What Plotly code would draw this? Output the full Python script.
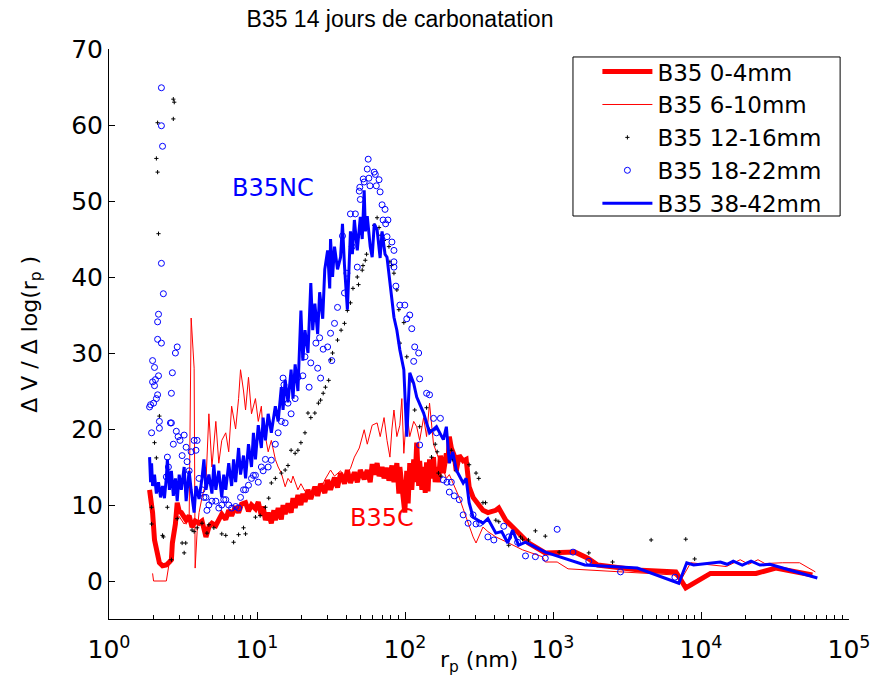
import plotly.graph_objects as go

# ---------------- data ----------------
# B35 0-4mm (thick red line)
r_04 = [1.88, 1.97, 2.03, 2.13, 2.19, 2.30, 2.44, 2.56, 2.64, 2.68, 2.76, 2.81, 2.89, 2.98, 3.08, 3.22, 3.32,
        3.48, 3.64, 3.82, 4.06, 4.25, 4.38, 4.52, 4.73, 4.96, 5.27, 5.52, 5.78, 6.15, 6.44, 6.74, 7.17, 7.51,
        7.86, 8.37, 8.76, 9.18, 9.76, 10.2, 10.7, 11.0, 11.4, 11.9, 12.5, 13.0, 13.3, 13.9, 14.6, 15.0, 15.5,
        16.2, 17.0, 17.5, 18.1, 18.9, 19.8, 20.4, 21.1, 22.1, 23.1, 24.6, 25.7, 26.9, 28.7, 30.0, 31.4, 33.4,
        35.0, 36.7, 39.0, 40.8, 42.8, 45.5, 47.6, 49.9, 53.0, 55.6, 58.2, 60.0, 61.9, 64.8, 66.8, 70.0, 72.2,
        75.6, 77.9, 81.6, 84.2, 88.1, 90.9, 92.3, 95.2, 98.2, 99.7, 102.8, 105.0, 107.7, 111.1, 114.5, 117.0,
        120.0, 123.7, 125.6, 130.0, 133.6, 137.0, 139.9, 143.0, 146.5, 151.1, 155.8, 160.0, 163.2, 168.3,
        173.5, 181.7, 190.3, 195.0, 199.3, 205.5, 215.2, 222.0, 232.5, 247.2, 258.9, 265.0, 271.2, 288.4,
        302.0, 336.3, 363.2, 410.9, 430.2, 457.6, 479.3, 558.8, 622.6, 682.9, 887.0, 1083, 1407, 1719, 2005,
        3948, 6764, 7890, 11590, 23540, 32010, 56580]
v_04 = [12.0, 9.0, 5.4, 3.2, 2.4, 2.0, 2.1, 2.5, 2.8, 5.0, 6.3, 7.5, 10.3, 9.2, 9.0, 8.5, 8.0,
        8.6, 7.1, 7.9, 7.6, 7.9, 6.8, 5.8, 7.1, 7.6, 7.3, 8.2, 8.8, 8.1, 9.3, 8.6, 9.8, 9.0,
        10.1, 10.3, 9.2, 10.0, 9.5, 10.4, 8.6, 9.8, 8.0, 9.0, 7.6, 9.3, 8.0, 9.6, 8.1, 10.0, 8.8,
        10.2, 9.0, 10.9, 9.6, 11.3, 10.0, 11.5, 10.4, 12.0, 10.8, 12.4, 11.2, 12.8, 11.6, 13.3, 12.0, 13.6,
        12.3, 14.2, 12.8, 14.6, 12.9, 14.3, 13.0, 14.6, 13.4, 14.6, 13.0, 15.4, 14.0, 15.5, 13.8, 15.0, 13.5,
        14.9, 13.2, 15.2, 13.0, 15.5, 11.5, 15.0, 13.0, 11.0, 9.0, 14.5, 10.2, 15.5, 12.0, 16.0, 13.0,
        18.2, 12.5, 15.8, 12.0, 15.0, 11.6, 15.6, 11.8, 16.0, 13.5, 16.3, 13.0, 15.0, 13.0,
        16.5, 14.2, 16.8, 15.5, 19.0, 17.5, 16.5, 14.5, 16.5, 15.8, 16.0, 13.0, 12.4, 11.0,
        10.5, 9.3, 9.0, 9.3, 9.6, 8.8, 8.0, 6.7, 5.8, 5.0, 3.7, 3.7, 3.8, 3.0, 2.1,
        1.4, 1.2, -0.9, 1.0, 1.0, 1.7, 0.8]

# B35 6-10mm (thin red line)
r_610 = [1.97, 2.00, 2.44, 2.56, 2.68, 2.81, 2.98, 3.22, 3.48, 3.59, 3.76, 3.82, 3.94, 4.06, 4.25, 4.52,
         4.73, 4.96, 5.27, 5.52, 5.78, 6.15, 6.44, 6.74, 7.17, 7.51, 7.74, 8.11, 8.37, 8.76, 9.18, 9.76,
         10.2, 10.7, 11.0, 11.4, 11.9, 12.5, 13.3, 13.9, 14.6, 15.5, 16.2, 17.0, 17.5, 18.9, 19.8, 21.1,
         23.1, 24.6, 26.9, 28.7, 31.4, 33.4, 36.7, 39.0, 42.8, 45.5, 49.1, 53.0, 55.6, 60.0, 64.8, 68.0,
         72.2, 75.6, 79.1, 81.6, 84.2, 88.1, 92.3, 95.2, 98.2, 102.8, 107.7, 114.5, 120.0, 125.6, 133.6,
         139.9, 146.5, 155.8, 163.2, 173.5, 181.7, 190.3, 199.3, 215.2, 232.5, 247.2, 258.9, 288.4, 302.0,
         336.3, 363.2, 410.9, 501.9, 622.6, 846.9, 887.0, 1067, 1264, 6559, 7305, 8521, 14830, 18400,
         21000, 24270, 27000, 35650, 46330, 59260]
v_610 = [1.0, 0.0, 0.0, 2.8, 5.0, 7.5, 8.5, 7.5, 8.2, 34.6, 28.0, 1.7, 6.5, 9.0, 11.0, 13.0,
         22.0, 15.0, 21.0, 15.5, 18.5, 19.5, 17.0, 23.0, 20.0, 24.0, 27.8, 25.0, 22.5, 26.8, 22.0, 24.0,
         21.0, 23.0, 19.5, 19.0, 17.0, 18.5, 16.0, 15.0, 14.2, 12.4, 13.5, 12.9, 13.8, 12.0, 12.8, 11.8,
         11.6, 12.4, 12.0, 13.3, 14.6, 13.8, 14.5, 13.7, 14.8, 16.3, 17.5, 19.9, 18.0, 20.5, 20.8, 19.0,
         21.5, 18.5, 16.3, 20.0, 22.5, 19.0, 20.5, 24.0, 16.8, 22.5, 19.0, 21.0, 20.3, 18.5, 21.5,
         19.0, 23.4, 18.0, 16.8, 15.5, 14.6, 13.5, 14.0, 12.5, 11.0, 9.5, 8.4, 5.8, 5.0,
         7.1, 6.5, 5.8, 5.0, 4.1, 3.2, 2.5, 2.5, 1.6, 0.8, 0.1, 2.4, 1.9, 2.8,
         2.2, 2.8, 2.3, 2.4, 2.4, 1.2]

# B35 12-16mm (black points)
r_1216 = [1.94, 1.94, 2.03, 2.09, 2.09, 2.13, 2.13, 2.16, 2.19, 2.30, 2.33, 2.48, 2.64, 2.72, 2.72, 2.76,
          2.89, 3.12, 3.22, 3.30, 3.64, 3.76, 3.94, 4.25, 4.59, 4.73, 5.11, 5.78, 6.15, 6.95, 7.51, 8.11,
          8.37, 9.76, 10.5, 11.4, 12.0, 12.5, 13.3, 14.6, 15.5, 16.2, 17.0, 18.1, 18.9, 19.8, 21.1, 22.1,
          23.1, 24.6, 26.0, 26.9, 28.0, 29.0, 30.5, 31.4, 32.4, 35.0, 37.0, 39.0, 40.8, 42.8, 44.5, 47.6,
          48.5, 51.4, 52.0, 53.9, 55.0, 61.9, 64.8, 66.8, 67.9, 69.0, 72.0, 77.9, 79.1, 81.0, 84.2, 88.1,
          90.9, 92.3, 98.2, 102.8, 111.1, 116.3, 125.6, 139.9, 146.5, 151.1, 160.0, 165.0, 168.3, 175.0,
          205.5, 210.0, 222.0, 271.2, 302.0, 315.0, 336.3, 350.0, 410.9, 430.2, 501.9, 603.7, 622.6, 682.9,
          760.3, 887.0, 1100, 1746, 2526, 4604, 7890, 9063]
v_1216 = [9.7, 7.5, 18.2, 55.6, 16.2, 60.3, 53.8, 45.7, 21.7, 6.0, 5.8, 9.7, 2.8, 63.4, 60.8, 63.0,
          8.2, 5.0, 3.7, 5.0, 6.7, 6.5, 7.0, 7.6, 6.3, 7.4, 7.0, 6.2, 6.0, 5.1, 6.1, 7.0,
          6.2, 8.4, 8.6, 9.7, 10.9, 12.9, 13.5, 14.2, 14.6, 15.2, 17.2, 16.8, 17.2, 18.2, 19.5, 22.1,
          21.5, 22.1, 23.4, 23.8, 24.7, 25.5, 26.4, 29.1, 30.0, 31.7, 33.0, 33.9, 35.6, 36.6, 38.5, 40.0,
          39.0, 40.9, 41.5, 42.2, 43.0, 46.8, 47.8, 46.5, 44.5, 45.5, 44.8, 44.0, 42.0, 41.5, 40.5, 38.3,
          35.7, 31.3, 34.0, 29.5, 26.4, 22.5, 20.3, 22.8, 19.9, 16.3, 18.0, 17.0, 14.2, 13.8,
          17.2, 16.0, 14.5, 15.3, 14.2, 13.5, 10.3, 10.3, 8.0, 7.8, 4.7, 5.8, 5.5, 5.4,
          6.6, 5.9, 3.8, 3.7, 2.5, 5.4, 5.5, 2.9]

# B35 18-22mm (blue circles)
r_1822 = [1.88, 1.91, 1.94, 1.97, 1.97, 2.00, 2.03, 2.03, 2.06, 2.09, 2.13, 2.13, 2.13, 2.16, 2.16, 2.19,
          2.19, 2.26, 2.26, 2.26, 2.26, 2.30, 2.33, 2.44, 2.48, 2.52, 2.60, 2.64, 2.64, 2.68, 2.72, 2.81,
          2.85, 2.89, 2.93, 3.02, 3.12, 3.22, 3.32, 3.37, 3.48, 3.59, 3.76, 3.87, 3.94, 4.06, 4.25, 4.38,
          4.52, 4.59, 4.73, 4.96, 5.27, 5.52, 5.78, 5.96, 6.15, 6.44, 6.74, 7.17, 7.51, 7.74, 8.11, 8.37,
          8.76, 9.18, 9.46, 9.76, 10.2, 10.7, 11.0, 11.4, 11.9, 12.5, 13.3, 13.9, 14.6, 15.0, 15.2, 15.5,
          16.2, 17.0, 18.1, 18.9, 20.4, 21.1, 22.5, 23.1, 25.0, 25.7, 26.5, 26.9, 28.0, 30.0, 31.4, 32.0,
          33.4, 35.0, 37.8, 39.0, 40.5, 42.8, 44.0, 46.2, 47.6, 49.1, 49.5, 49.9, 52.2, 53.0, 55.6, 56.4,
          57.0, 58.0, 61.9, 63.0, 64.0, 66.8, 67.9, 70.0, 71.1, 73.3, 74.0, 75.6, 76.7, 81.6, 84.2, 84.2,
          84.2, 86.8, 92.3, 99.7, 102.8, 107.7, 111.1, 114.5, 116.3, 123.7, 125.6, 125.6, 139.9, 146.5,
          155.8, 163.2, 173.5, 181.7, 192.0, 199.3, 205.5, 215.2, 232.5, 247.2, 267.0, 288.4, 302.0, 320.0,
          363.2, 398.4, 464.7, 501.9, 576.3, 651.9, 760.3, 887.0, 1067, 1365, 1746, 2858, 6661]
v_1822 = [22.9, 23.2, 19.5, 29.0, 26.2, 23.4, 28.1, 25.7, 26.5, 24.0, 34.1, 31.8, 24.5, 35.1, 27.0, 21.0,
          20.1, 64.9, 59.9, 41.8, 31.3, 57.2, 37.8, 13.7, 16.3, 15.0, 20.8, 24.7, 20.8, 27.4, 18.0, 30.0,
          19.7, 30.8, 19.0, 18.5, 16.5, 19.2, 17.6, 15.7, 14.5, 17.0, 18.5, 17.2, 18.5, 13.5, 12.0, 11.0,
          11.0, 9.3, 10.0, 10.5, 10.5, 9.6, 10.0, 10.7, 10.7, 10.0, 9.6, 9.8, 9.6, 11.0, 12.0, 12.0,
          12.6, 13.5, 13.9, 13.9, 13.0, 15.0, 14.5, 16.0, 15.0, 15.9, 18.0, 19.5, 21.0, 26.7, 25.8, 20.8,
          23.4, 22.0, 24.0, 26.8, 27.0, 29.5, 25.5, 28.7, 31.3, 28.0, 32.0, 26.7, 30.5, 30.8, 32.6, 29.0,
          33.9, 36.0, 45.4, 37.9, 40.5, 48.3, 44.0, 48.3, 41.3, 51.3, 51.8, 50.2, 52.9, 52.5, 54.2, 55.5,
          53.0, 52.0, 53.8, 53.5, 52.0, 52.8, 51.2, 49.5, 47.5, 48.9, 47.0, 45.3, 47.5, 44.6, 43.5, 42.0,
          41.3, 38.8, 36.3, 36.3, 34.5, 35.0, 33.2, 28.9, 30.8, 30.0, 26.6, 17.9, 24.7, 24.5,
          21.4, 19.5, 21.4, 13.3, 13.0, 11.7, 13.0, 11.2, 10.7, 8.7, 7.6, 8.7, 7.5, 7.6,
          5.8, 5.4, 7.2, 5.8, 5.1, 3.3, 3.2, 3.0, 6.8, 3.8, 2.6, 1.2, 0.5]

# B35 38-42mm (blue line)
r_3842 = [1.88, 1.91, 1.94, 1.97, 2.03, 2.09, 2.16, 2.23, 2.30, 2.37, 2.44, 2.48, 2.56, 2.64, 2.72, 2.81,
          2.89, 2.98, 3.08, 3.22, 3.32, 3.48, 3.59, 3.76, 3.87, 4.06, 4.25, 4.38, 4.52, 4.73, 4.96, 5.11,
          5.27, 5.52, 5.78, 5.96, 6.15, 6.44, 6.74, 6.95, 7.17, 7.51, 7.74, 8.11, 8.37, 8.76, 9.18, 9.46,
          9.76, 10.2, 10.7, 11.0, 11.4, 11.9, 12.5, 13.3, 13.9, 14.6, 15.0, 15.5, 16.2, 17.0, 17.5, 18.1,
          18.9, 19.8, 20.4, 21.1, 22.1, 23.1, 23.8, 24.6, 25.7, 26.5, 27.8, 28.7, 30.0, 31.0, 31.4, 32.4,
          33.4, 35.0, 36.7, 37.8, 39.0, 40.8, 42.8, 44.1, 45.5, 47.6, 49.9, 51.4, 53.0, 54.0, 55.6, 58.2,
          60.0, 62.0, 64.8, 67.9, 70.0, 73.3, 75.6, 79.1, 84.2, 88.1, 92.3, 98.2, 102.8, 107.7, 114.5,
          120.0, 127.0, 133.6, 146.5, 163.2, 181.7, 190.3, 199.3, 210.0, 222.0, 247.2, 258.9, 271.2, 288.4,
          336.3, 363.2, 410.9, 450.0, 494.3, 533.6, 585.3, 651.9, 887.0, 1641, 3711, 7084, 8012, 8924,
          13520, 15000, 16520, 19000, 21790, 25030, 29190, 61120]
v_3842 = [16.3, 13.0, 15.5, 12.5, 14.0, 11.5, 13.0, 11.0, 12.5, 10.9, 13.6, 16.0, 12.0, 14.5, 11.2, 13.5,
          10.5, 14.0, 12.0, 15.0, 10.5, 14.5, 12.0, 9.0, 12.5, 10.8, 13.5, 16.0, 12.0, 14.0, 11.5, 15.3,
          12.0, 14.5, 11.0, 14.0, 12.0, 15.5, 12.5, 16.0, 13.0, 17.5, 14.0, 16.5, 13.5, 18.0, 15.0, 19.5,
          16.0, 20.5, 17.5, 21.5, 18.5, 22.0, 19.5, 23.0, 21.0, 25.5, 22.5, 26.5, 23.5, 27.8, 24.0, 28.5,
          25.0, 35.6, 29.0, 33.0, 30.0, 39.2, 33.0, 36.5, 32.5, 38.0, 34.5, 41.0, 43.5, 38.5, 45.0, 40.0,
          44.0, 41.0, 42.6, 47.0, 41.5, 35.7, 46.0, 43.0, 47.5, 43.5, 47.9, 45.0, 51.4, 46.0, 48.0, 44.0,
          42.6, 47.0, 46.2, 42.5, 46.0, 43.0, 42.6, 39.6, 34.7, 33.0, 30.4, 27.8, 19.0, 27.4, 26.0,
          24.2, 23.0, 22.1, 19.5, 20.3, 18.6, 20.3, 15.5, 17.0, 14.6, 12.9, 13.5, 10.3, 8.4,
          7.6, 8.2, 6.3, 6.5, 5.0, 6.7, 4.7, 5.1, 3.8, 2.1, 1.7, -0.3, 2.4, 2.1,
          2.5, 2.2, 2.6, 2.1, 2.6, 2.1, 2.2, 0.4]

x_tick_vals = [1, 10, 100, 1000, 10000, 100000]
x_tick_text = ["10<sup>0</sup>", "10<sup>1</sup>", "10<sup>2</sup>", "10<sup>3</sup>", "10<sup>4</sup>", "10<sup>5</sup>"]
y_tick_vals = [0, 10, 20, 30, 40, 50, 60, 70]

RED = "#ff0000"
BLUE = "#0000ff"
FONT = "DejaVu Sans"

fig = go.Figure()
fig.add_trace(go.Scatter(x=r_04, y=v_04, mode="lines", name="B35 0-4mm",
                         line=dict(color=RED, width=5)))
fig.add_trace(go.Scatter(x=r_610, y=v_610, mode="lines", name="B35 6-10mm",
                         line=dict(color=RED, width=1)))
fig.add_trace(go.Scatter(x=r_1216, y=v_1216, mode="markers", name="B35 12-16mm",
                         marker=dict(symbol="cross-thin", size=3, color="black",
                                     line=dict(color="black", width=1))))
fig.add_trace(go.Scatter(x=r_1822, y=v_1822, mode="markers", name="B35 18-22mm",
                         marker=dict(symbol="circle-open", size=6, color=BLUE,
                                     line=dict(color=BLUE, width=1))))
fig.add_trace(go.Scatter(x=r_3842, y=v_3842, mode="lines", name="B35 38-42mm",
                         line=dict(color=BLUE, width=3)))

fig.update_layout(
    width=882, height=679,
    margin=dict(l=109, r=25, t=49, b=60),
    paper_bgcolor="white", plot_bgcolor="white",
    font=dict(family=FONT, size=22, color="black"),
    title=dict(text="B35 14 jours de carbonatation", x=400/882, xref="container", xanchor="center",
               y=1 - 19/679, yref="container", yanchor="middle",
               font=dict(family="Liberation Sans", size=23, color="black")),
    legend=dict(x=0.660, y=0.998, xanchor="left", yanchor="top", bgcolor="rgba(0,0,0,0)",
                borderwidth=0, font=dict(family=FONT, size=23, color="black"),
                itemwidth=50, tracegroupgap=0),
    showlegend=True,
    shapes=[dict(type="rect", xref="paper", yref="paper", x0=0.627, x1=0.988, y0=0.707, y1=0.986,
                 line=dict(color="black", width=1), fillcolor="white", layer="below")],
)
fig.update_xaxes(type="log", range=[0, 5], showline=True, linecolor="black", linewidth=1,
                 mirror=False, showgrid=False, zeroline=False,
                 tickmode="array", tickvals=x_tick_vals, ticktext=x_tick_text,
                 ticks="inside", ticklen=7, tickcolor="black", tickwidth=1, ticklabelstandoff=8,
                 tickfont=dict(family=FONT, size=25, color="black"),
                 minor=dict(ticks="inside", ticklen=4, tickcolor="black", dtick="D1", showgrid=False))
fig.update_yaxes(range=[-5, 70], showline=True, linecolor="black", linewidth=1,
                 mirror=False, showgrid=False, zeroline=False,
                 tickmode="array", tickvals=y_tick_vals,
                 ticks="inside", ticklen=6, tickcolor="black", tickwidth=1,
                 tickfont=dict(family=FONT, size=25, color="black"))

fig.add_annotation(x=1.11, y=51.7, xref="x", yref="y", text="B35NC", showarrow=False,
                   font=dict(family=FONT, size=24, color=BLUE))
fig.add_annotation(x=1.845, y=8.3, xref="x", yref="y", text="B35C", showarrow=False,
                   font=dict(family=FONT, size=24, color=RED))
fig.add_annotation(x=0.5, y=-0.074, xref="paper", yref="paper", text="r<sub>p</sub> (nm)",
                   showarrow=False, xanchor="center", yanchor="middle",
                   font=dict(family=FONT, size=22, color="black"))
fig.add_annotation(x=-0.1056, y=0.5, xref="paper", yref="paper", text="Δ V / Δ log(r<sub>p</sub> )",
                   textangle=-90, showarrow=False, xanchor="center", yanchor="middle",
                   font=dict(family=FONT, size=22, color="black"))

fig.write_html("out.html")
